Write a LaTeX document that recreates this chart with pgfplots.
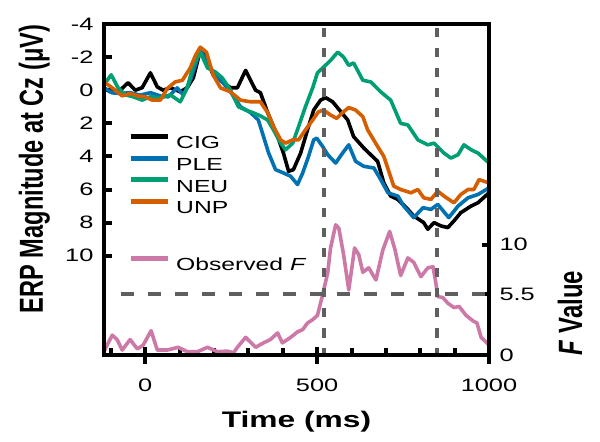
\documentclass[border=0pt]{standalone}
\usepackage{pgfplots}
\pgfplotsset{compat=1.18}
\usepackage{fontspec}
\setmainfont{Liberation Sans}[FakeStretch=1.41]
\newfontfamily\plainfont{Liberation Sans}
\definecolor{cblue}{HTML}{0072B2}
\definecolor{cgreen}{HTML}{009E73}
\definecolor{corange}{HTML}{D55E00}
\definecolor{cpink}{HTML}{CC79A7}
\definecolor{dgray}{HTML}{5F5F5F}

\begin{document}
\begin{tikzpicture}
\begin{axis}[width=385bp, height=331bp, scale only axis,
  name=ax1,
  xmin=-120, xmax=1000, ymin=-4, ymax=16, y dir=reverse,
  axis line style={line width=4.5bp, black},
  tick style={line width=4bp, black},
  tick align=inside, major tick length=7.5bp,
  ytick={-4,-2,0,2,4,6,8,10},
  yticklabels={-4,-2,0,2,4,6,8,10},
  ytick pos=left,
  xtick={-100,100,200,300,400,600,700,800,900},
  xticklabels={},
  xtick pos=bottom,
  extra x ticks={0,500,1000},
  extra x tick labels={0,500,1000},
  extra x tick style={tick align=center, major tick length=17bp, xticklabel style={yshift=-12bp}},
  /pgf/number format/assume math mode=true,
  tick label style={font=\fontsize{18bp}{20bp}\selectfont},
  yticklabel style={xshift=-7bp},
  legend image code/.code={\draw[#1, line width=5bp] (0bp,6bp) -- (37bp,6bp);},
  legend style={at={(axis description cs:0.0623,0.547)}, anchor=west, draw=none, fill=none,
    inner sep=0pt, row sep=6.8bp, column sep=6bp,
    font=\fontsize{17.5bp}{19bp}\selectfont,
    nodes={inner sep=0pt, text height=12.5bp, text depth=0pt}},
  legend cell align=left,
]
\addplot[line width=3.6bp, line join=round, black] table {
-120 -0.14
-102 0.1
-73 0
-50 -0.45
-29 0
-9 -0.15
15 -1.05
35 -0.2
52 0
73 -0.15
102 0.1
122 -0.15
140 -0.75
160 -2.4
175 -2.1
198 -0.9
224 -0.5
248 -0.15
268 -0.15
292 -1.2
321 0
335 0.15
356 1.35
385 2.8
402 3.8
417 4.9
431 4.8
452 3.8
472 2.4
490 1.2
510 0.6
525 0.45
545 0.7
569 1.3
589 1.8
606 2.8
636 3.5
656 3.9
676 4.3
694 5.6
714 6.4
735 6.6
764 7.2
781 7.6
810 8.0
822 8.4
840 8.0
860 8.2
880 8.3
898 7.9
918 7.4
948 7.0
968 6.8
1000 6.2
};
\addlegendentry{CIG}
\addplot[line width=3.6bp, line join=round, cblue] table {
-120 -0.14
-96 0.16
-73 0.2
-44 0.15
-15 0.3
15 0.15
44 0.35
67 0.4
93 -0.14
111 0.3
131 -0.6
160 -2.4
181 -1.7
204 -0.85
224 -0.5
248 0.1
277 1.0
306 1.35
329 1.8
344 2.8
359 3.8
379 4.8
402 5.0
423 5.2
443 5.7
458 5.0
475 4.0
490 3.0
499 2.9
516 3.4
531 3.9
554 4.4
574 3.8
592 3.3
612 4.3
636 4.6
665 4.7
685 5.4
706 6.2
735 6.4
752 7.0
781 7.7
808 7.1
831 7.2
851 6.9
883 7.7
910 7.0
939 6.5
968 6.3
1000 5.9
};
\addlegendentry{PLE}
\addplot[line width=3.6bp, line join=round, cgreen] table {
-120 -0.33
-99 -0.93
-79 -0.14
-58 0.28
-35 0.4
-9 0.6
15 0.4
44 0.46
73 0.28
102 0.7
122 -0.14
140 -1.5
160 -2.3
181 -1.35
204 -1.1
224 -0.75
248 0
271 1.0
292 1.2
312 1.35
335 1.55
356 1.8
373 2.4
394 3.2
408 3.6
429 3.2
446 2.2
466 1.0
487 -0.14
501 -1.05
519 -1.4
539 -1.8
560 -2.3
577 -2.0
592 -1.5
606 -1.65
633 -0.6
656 -0.5
685 0.1
714 0.6
743 2.0
764 2.1
793 3.0
822 3.3
840 3.2
869 3.8
889 4.1
910 3.9
927 3.3
948 3.6
968 3.8
1000 4.4
};
\addlegendentry{NEU}
\addplot[line width=3.6bp, line join=round, corange] table {
-120 -0.5
-96 -0.14
-67 0.34
-44 0.2
-23 0.34
0 0.4
20 0.6
44 0.6
64 -0.1
87 -0.5
108 -0.6
131 -1.35
146 -2.1
160 -2.6
178 -2.3
198 -0.9
219 -0.14
248 0.1
277 0.6
306 0.7
335 0.7
356 1.35
373 2.2
394 3.0
408 3.2
429 3.0
446 3.0
466 2.4
487 1.8
504 1.3
519 1.2
539 1.5
557 1.7
574 1.35
592 1.05
612 1.2
633 1.6
647 2.4
676 3.4
694 4.0
723 5.8
743 6.0
773 6.2
793 6.0
810 6.5
831 6.6
851 6.1
869 6.4
898 6.8
918 6.3
939 6.0
956 6.0
971 5.4
985 5.5
1000 5.6
};
\addlegendentry{UNP}
\end{axis}
\begin{axis}[width=385bp, height=331bp, scale only axis,
  name=ax2,
  xmin=-120, xmax=1000, ymin=0, ymax=30,
  clip=false,
  axis y line*=right, axis x line=none,
  every outer y axis line/.append style={line width=4.5bp, black},
  tick style={line width=4bp, black},
  tick align=inside, major tick length=7.5bp,
  ytick={0,5.5,10}, yticklabels={0,5.5,10},
  /pgf/number format/assume math mode=true,
  tick label style={font=\fontsize{18bp}{20bp}\selectfont},
  yticklabel style={xshift=7bp},
  legend image code/.code={\draw[#1, line width=5bp] (0bp,6bp) -- (37bp,6bp);},
  legend style={at={(axis description cs:0.0623,0.278)}, anchor=west, draw=none, fill=none,
    inner sep=0pt, column sep=6bp,
    font=\fontsize{17.5bp}{19bp}\selectfont,
    nodes={inner sep=0pt, text height=12.5bp, text depth=0pt}},
  legend cell align=left,
]
\addplot[line width=3.6bp, line join=round, cpink] table {
-120 0.3
-111 0.9
-96 1.8
-82 1.4
-67 0.45
-44 1.4
-23 0.55
-6 0.9
17 2.2
35 0.45
64 0.45
96 0.7
122 0.3
152 0.3
181 0.7
210 0.3
239 0.35
257 0.2
268 0.7
292 1.6
321 0.7
344 1.1
364 1.4
385 2.0
399 1.1
423 1.6
443 2.1
458 2.3
472 2.9
487 3.2
501 3.6
516 5.45
531 7.5
539 9.7
554 11.8
563 11.5
577 9.1
592 5.9
609 9.7
621 9.1
633 7.5
650 7.9
671 6.8
691 9.5
711 11.2
726 9.6
743 7.2
764 8.8
781 8.4
802 7.1
822 7.9
837 8.0
845 6.6
851 5.3
866 5.2
880 4.7
898 4.3
913 4.4
933 3.6
953 3.1
965 2.9
977 1.6
1000 0.9
};
\addlegendentry{Observed \textit{F}}
\addplot[forget plot, dgray, line width=4bp, dash pattern=on 9.5bp off 10.5bp, dash phase=16bp] coordinates {(520,30) (520,0)};
\addplot[forget plot, dgray, line width=4bp, dash pattern=on 9.5bp off 10.5bp, dash phase=16bp] coordinates {(850,30) (850,0)};
\addplot[forget plot, dgray, line width=3.8bp, dash pattern=on 13bp off 14bp] coordinates {(-70,5.5) (1000,5.5)};
\addplot[forget plot, black, line width=4.5bp, line join=miter, line cap=rect] coordinates {(-120,0) (-120,30) (1000,30) (1000,0) (-120,0)};
\end{axis}
\node[rotate=90, anchor=base, font=\plainfont\bfseries\fontsize{23.6bp}{26bp}\selectfont]
  at ([xshift=-61bp,yshift=186bp]ax2.south west) {\scalebox{1}[1.41]{ERP Magnitude at Cz (μV)}};
\node[rotate=90, anchor=base, font=\plainfont\bfseries\fontsize{23.9bp}{26bp}\selectfont]
  at ([xshift=478bp,yshift=42bp]ax2.south west) {\scalebox{1}[1.41]{\textit{F} Value}};
\node[anchor=base, font=\bfseries\fontsize{22.5bp}{25bp}\selectfont]
  at ([xshift=192.5bp,yshift=-72bp]ax2.south west) {Time (ms)};
\path ([xshift=-104bp,yshift=-87bp]ax2.south west) rectangle ++(600bp,442bp);
\end{tikzpicture}
\end{document}
